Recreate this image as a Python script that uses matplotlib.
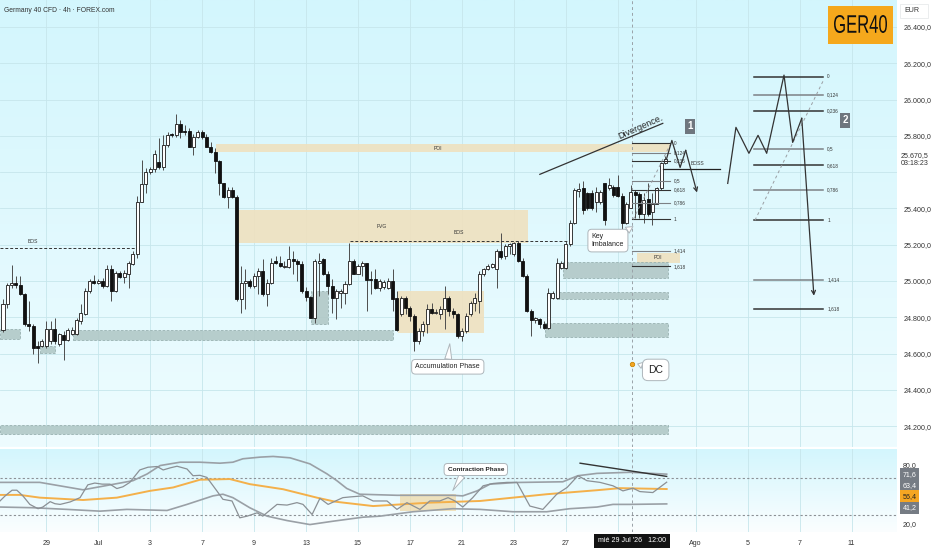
import numpy as np
import matplotlib.pyplot as plt
import matplotlib.transforms as mtransforms
from matplotlib.patches import Rectangle, PathPatch
from matplotlib.colors import LinearSegmentedColormap
from matplotlib.textpath import TextPath
from matplotlib.font_manager import FontProperties

plt.rcParams['font.family'] = ['Liberation Sans', 'DejaVu Sans']

# ---- 4h candles (GER40) ----
opens = [24731, 24875, 24980, 24991, 24980, 24930, 24764, 24753, 24643, 24643,
         24643, 24670, 24737, 24654, 24704, 24676, 24709, 24709, 24781, 24820,
         24947, 25002, 24991, 25002, 24974, 25068, 24947, 25046, 25024, 25041,
         25096, 25151, 25438, 25532, 25599, 25615, 25654, 25626, 25748, 25809,
         25803, 25864, 25825, 25825, 25737, 25792, 25820, 25792, 25737, 25709,
         25659, 25538, 25461, 25499, 25461, 24903, 24991, 25002, 24974, 25030,
         25057, 24930, 24991, 25112, 25101, 25079, 25079, 25124, 25112, 25096,
         24947, 24914, 24798, 25101, 25124, 25041, 24974, 24908, 24936, 24936,
         24985, 25112, 25041, 25085, 25101, 25013, 25013, 24963, 24969, 24963,
         25002, 24908, 24820, 24908, 24853, 24809, 24670, 24726, 24764, 24847,
         24825, 24820, 24847, 24908, 24836, 24820, 24698, 24726, 24820, 24880,
         24892, 25041, 25068, 25079, 25068, 25168, 25140, 25195, 25151, 25212,
         25112, 25030, 24836, 24787, 24792, 24764, 24742, 24908, 24908, 25074,
         25074, 25206, 25322, 25494, 25510, 25483, 25483, 25433, 25433, 25538,
         25510, 25516, 25516, 25466, 25322, 25405, 25488, 25477, 25372, 25450,
         25378, 25427, 25510, 25648]
closes = [24875, 24980, 24991, 24980, 24930, 24764, 24753, 24632, 24632, 24670,
          24737, 24737, 24670, 24709, 24676, 24731, 24731, 24787, 24825, 24947,
          25002, 24991, 25002, 24974, 25068, 24947, 25046, 25024, 25046, 25101,
          25151, 25438, 25532, 25599, 25615, 25698, 25626, 25748, 25803, 25803,
          25864, 25820, 25820, 25737, 25792, 25820, 25792, 25737, 25709, 25659,
          25538, 25461, 25499, 25461, 24903, 24991, 25002, 24974, 25030, 25057,
          24930, 24991, 25101, 25101, 25085, 25085, 25124, 25112, 25096, 24947,
          24914, 24798, 25112, 25112, 25041, 24974, 24908, 24947, 24947, 24985,
          25112, 25041, 25085, 25101, 25008, 25008, 24963, 25002, 24996, 25002,
          24903, 24731, 24908, 24853, 24809, 24670, 24726, 24764, 24847, 24825,
          24831, 24847, 24908, 24836, 24820, 24698, 24726, 24809, 24880, 24908,
          25041, 25068, 25085, 25096, 25168, 25135, 25195, 25206, 25212, 25112,
          25030, 24836, 24787, 24798, 24764, 24742, 24936, 24936, 25101, 25101,
          25206, 25322, 25499, 25505, 25389, 25400, 25400, 25488, 25488, 25334,
          25527, 25472, 25466, 25322, 25427, 25488, 25472, 25372, 25444, 25372,
          25427, 25510, 25648, 25670]
highs = [24903, 24991, 25090, 25030, 25030, 24936, 24892, 24764, 24670, 24682,
         24781, 24781, 24798, 24715, 24726, 24742, 24747, 24798, 24875, 24963,
         25013, 25035, 25013, 25019, 25090, 25090, 25057, 25057, 25063, 25112,
         25168, 25466, 25665, 25621, 25626, 25720, 25787, 25803, 25820, 25814,
         25919, 25886, 25858, 25842, 25809, 25831, 25831, 25809, 25764, 25731,
         25665, 25543, 25516, 25516, 25472, 25085, 25068, 25013, 25046, 25074,
         25124, 25013, 25129, 25140, 25140, 25112, 25195, 25168, 25124, 25112,
         24969, 24919, 25124, 25157, 25129, 25057, 25013, 24958, 24958, 25002,
         25212, 25124, 25096, 25112, 25101, 25057, 25068, 25013, 25008, 25019,
         25068, 24947, 24919, 24919, 24864, 24820, 24742, 24781, 24875, 24880,
         24847, 24864, 24974, 24919, 24853, 24825, 24742, 24825, 24892, 24936,
         25057, 25074, 25096, 25101, 25179, 25267, 25206, 25212, 25215, 25223,
         25129, 25041, 24847, 24803, 24798, 24781, 24963, 24947, 25129, 25112,
         25223, 25334, 25510, 25538, 25549, 25488, 25499, 25516, 25499, 25543,
         25566, 25527, 25582, 25483, 25433, 25527, 25499, 25488, 25483, 25543,
         25483, 25516, 25654, 25687]
lows = [24720, 24853, 24963, 24963, 24925, 24753, 24726, 24599, 24549, 24637,
        24632, 24654, 24654, 24643, 24565, 24670, 24704, 24704, 24764, 24814,
        24936, 24985, 24985, 24963, 24969, 24892, 24941, 25019, 24991, 24963,
        25090, 25129, 25433, 25483, 25588, 25599, 25615, 25610, 25737, 25792,
        25792, 25787, 25803, 25737, 25693, 25787, 25781, 25737, 25704, 25593,
        25472, 25455, 25405, 25455, 24892, 24825, 24847, 24963, 24963, 24930,
        24919, 24864, 24985, 25096, 25079, 25074, 25074, 25041, 25002, 24936,
        24892, 24798, 24770, 24919, 25035, 24930, 24825, 24792, 24853, 24875,
        24980, 25041, 25041, 25030, 24836, 24930, 24958, 24947, 24958, 24958,
        24836, 24726, 24809, 24820, 24781, 24615, 24654, 24698, 24715, 24820,
        24820, 24792, 24737, 24809, 24798, 24687, 24670, 24715, 24809, 24836,
        24825, 25030, 25063, 25074, 24963, 25124, 25124, 25151, 25140, 25107,
        25024, 24831, 24698, 24770, 24742, 24737, 24737, 24903, 24903, 25068,
        25068, 25195, 25317, 25461, 25372, 25389, 25389, 25378, 25427, 25306,
        25499, 25461, 25461, 25273, 25317, 25400, 25350, 25350, 25322, 25361,
        25306, 25422, 25499, 25643]

# ---- oscillator (read at bar positions) ----
rsi_idx = [-0.7, 0.5, 2.1, 3.2, 4.6, 6.2, 8.1, 9.2, 10.9, 12.0, 13.2, 15.5, 17.8, 19.6, 21.2,
           22.9, 24.7, 26.3, 27.7, 29.3, 31.6, 33.5, 35.6, 37.0, 38.6, 40.2, 42.5, 43.9, 45.5,
           47.1, 49.4, 50.8, 52.9, 54.7, 56.4, 58.7, 60.0, 63.3, 65.6, 67.9, 69.3, 71.4, 73.2,
           75.1, 78.5, 80.1, 83.1, 85.5, 88.7, 91.0, 93.3, 96.3, 98.6, 100.9, 102.8, 104.4,
           106.2, 108.5, 110.9, 113.2, 116.4, 118.7, 121.7, 124.7, 127.9, 130.3, 132.8, 134.9,
           137.9, 140.9, 143.2, 145.5, 147.1, 150.1, 153.3]
rsi_val = [44.2, 49.4, 55.2, 55.2, 49.4, 40.7, 36.3, 38.0, 43.5, 41.4, 40.7, 43.2, 47.6, 60.7, 62.5,
           61.4, 61.4, 56.9, 58.7, 63.2, 75.9, 78.7, 79.4, 75.9, 78.0, 79.7, 76.9, 70.0, 70.4,
           68.3, 54.5, 45.9, 44.2, 27.0, 28.7, 32.1, 28.7, 40.7, 40.0, 42.5, 40.7, 30.4, 46.9,
           40.7, 47.6, 48.3, 49.4, 44.2, 44.2, 35.6, 42.5, 35.6, 44.2, 44.2, 47.6, 44.2,
           38.0, 47.6, 59.7, 62.1, 63.2, 63.2, 39.0, 35.6, 51.1, 58.0, 70.0, 64.9,
           63.2, 59.7, 54.5, 57.3, 53.8, 52.8, 63.4]
upper_idx = [-0.7, 8.5, 18.5, 30.0, 33.3, 36.3, 40.9, 45.5, 50.1, 53.1, 55.4, 59.4, 62.4, 66.3,
             70.9, 74.8, 77.1, 79.4, 82.4, 91.0, 103.9, 106.2, 109.5, 112.5, 118.7, 129.3,
             132.8, 137.2, 144.8, 153.3]
upper_val = [63.2, 63.2, 55.6, 64.9, 71.8, 80.4, 83.8, 83.8, 82.8, 83.8, 87.3, 89.0, 89.7, 88.3,
             82.1, 72.0, 65.0, 57.0, 51.1, 50.0, 50.0, 49.4, 54.5, 61.4, 63.1, 63.8,
             70.0, 72.4, 73.5, 71.6]
lower_idx = [-0.7, 6.9, 14.8, 22.4, 28.6, 37.9, 42.5, 48.5, 50.8, 53.1, 57.0, 61.0, 65.6, 70.9,
             76.2, 83.1, 87.1, 94.7, 103.9, 110.2, 117.8, 125.6, 130.9, 137.2, 140.9, 144.8, 153.3]
lower_val = [38.0, 37.3, 35.6, 33.8, 35.6, 34.5, 40.7, 49.4, 51.1, 47.6, 37.3, 28.7, 24.2, 20.1,
             23.5, 27.6, 28.7, 33.2, 36.3, 35.6, 33.2, 33.2, 36.3, 38.0, 40.7, 40.7, 41.2]
ma_idx = [-0.7, 3.9, 8.5, 18.5, 26.3, 33.9, 39.3, 45.5, 52.4, 57.0, 64.7, 72.5, 76.7, 85.5, 98.6,
          110.2, 117.8, 125.6, 137.2, 142.5, 153.3]
ma_val = [50.4, 50.4, 47.6, 45.2, 47.6, 54.5, 58.0, 65.9, 66.6, 61.4, 56.2, 47.6, 43.5, 39.0, 42.5,
          44.2, 47.6, 51.1, 55.2, 57.3, 56.4]
osc_last = ['71,6', '63,4', '56,4', '41,2']
osc_label_at = [71.6, 60.0, 48.8, 37.4]

# ---- axis labels ----
price_ticks = [24200, 24400, 24600, 24800, 25000, 25200, 25400, 25800, 26000, 26200, 26400]
date_idx = [10, 22, 34, 46, 58, 70, 82, 94, 106, 118, 130, 160, 172, 184, 196]
date_lbl = ['29', 'Jul', '3', '7', '9', '13', '15', '17', '21', '23', '27', 'Ago', '5', '7', '11']
last_price = 25670.5

# ---- drawings ----
beige_zones = [(49.2, 154.0, 25709, 25753), (54.0, 121.2, 25212, 25394),
               (91.2, 111.1, 24715, 24947), (146.4, 156.4, 25101, 25157)]
gray_zones = [(-0.7, 3.9, 24682, 24737), (8.5, 12.0, 24604, 24643), (16.2, 90.0, 24676, 24731),
              (71.1, 75.1, 24764, 24947), (129.3, 153.6, 25019, 25107),
              (128.0, 153.6, 24903, 24941), (125.2, 153.6, 24693, 24770), (-0.7, 153.6, 24157, 24206)]
fib_levels = [0, 0.124, 0.236, 0.5, 0.618, 0.786, 1, 1.414, 1.618]
fib_names = ['0', '0,124', '0,236', '0,5', '0,618', '0,786', '1', '1,414', '1,618']
fib1 = (145.3, 154.0, 25760, 25340)
fib2 = (173.4, 189.4, 26125, 25335)
proj1_idx = [153.3, 154.5, 156.4, 157.7, 160.3]
proj1_px = [25676, 25775, 25626, 25720, 25488]
proj2_idx = [167.4, 169.3, 172.3, 174.4, 176.4, 180.4, 182.4, 184.5, 187.3]
proj2_px = [25538, 25847, 25704, 25803, 25704, 26135, 25764, 25897, 24919]
cross_idx = 145.3

W, H = 932, 550
fig = plt.figure(figsize=(W / 100, H / 100), dpi=100)


def box(l, t, r, b):
    return [l / W, 1 - b / H, (r - l) / W, (b - t) / H]


ax = fig.add_axes(box(0, 0, 897, 447))
osc = fig.add_axes(box(0, 449, 897, 532), sharex=ax)


def gradient(a, top, bottom):
    cm = LinearSegmentedColormap.from_list('g', [bottom, top])
    a.imshow(np.linspace(0, 1, 256).reshape(-1, 1), aspect='auto', cmap=cm,
             extent=[0, 1, 0, 1], transform=a.transAxes, origin='lower', zorder=-10)


gradient(ax, '#d3f6fd', '#eefcff')
gradient(osc, '#d3f6fd', '#fbfeff')

grid_c = '#c6e6ec'
for p in price_ticks + [25600]:
    ax.axhline(p, color=grid_c, lw=0.6, zorder=0)
for d in date_idx + [142]:
    ax.axvline(d, color=grid_c, lw=0.6, zorder=0)
    osc.axvline(d, color=grid_c, lw=0.6, zorder=0)

# zones
for x0, x1, p0, p1 in beige_zones:
    ax.add_patch(Rectangle((x0, p0), x1 - x0, p1 - p0, fc='#efe1bf', ec='none', alpha=0.9, zorder=1))
for x0, x1, p0, p1 in gray_zones:
    ax.add_patch(Rectangle((x0, p0), x1 - x0, p1 - p0, fc='#b1c8c7', ec='#93acab', lw=0.6,
                           ls=(0, (3, 2)), alpha=0.9, zorder=1))

# candles
o, h, l, c = map(np.array, (opens, highs, lows, closes))
idx = np.arange(len(o))
up = c >= o
lo = np.minimum(o, c)
hgt = np.maximum(np.abs(c - o), 3)
ax.vlines(idx, l, h, color='#4d4d4d', lw=0.7, zorder=3)
ax.bar(idx[up], hgt[up], bottom=lo[up], width=0.7, fc='white', ec='#1a1a1a', lw=0.6, zorder=4)
ax.bar(idx[~up], hgt[~up], bottom=lo[~up], width=0.7, fc='#111111', ec='#111111', lw=0.6, zorder=4)

# small labels
lab = dict(fontsize=3.6, color='#333', ha='center', va='center', zorder=6)
ax.text(6.9, 25218, 'BOS', **lab)
ax.text(105.3, 25267, 'BOS', **lab)
ax.text(87.5, 25300, 'FVG', **lab)
ax.text(100.5, 25731, 'POI', **lab)
ax.text(151.3, 25129, 'POI', **lab)
ax.text(160.3, 25648, 'BOSS', **lab)

# BOS lines
ax.plot([-0.7, 30.5], [25184, 25184], color='#333', lw=0.7, ls=(0, (3, 2)), zorder=5)
ax.plot([80.1, 130.3], [25223, 25223], color='#333', lw=0.7, ls=(0, (3, 2)), zorder=5)
ax.plot([152.4, 165.6], [25615, 25615], color='#222', lw=0.9, zorder=5)

# divergence
ax.plot([124.0, 152.4], [25588, 25869], color='#333', lw=0.9, zorder=5)
ax.text(147.3, 25850, 'Divergence.', fontsize=6.5, color='#222', rotation=24,
        ha='center', va='center', rotation_mode='anchor', zorder=6)

# fibonacci tools
for (x0, x1, hi, lo_), lw in ((fib1, 0.8), (fib2, 1.1)):
    for k, (lv, nm) in enumerate(zip(fib_levels, fib_names)):
        pr = hi - lv * (hi - lo_)
        ax.plot([x0, x1], [pr, pr], color='#333' if k % 2 == 0 else '#7d8185', lw=lw, zorder=5)
        ax.text(x1 + 1.0, pr, nm, fontsize=3.4, color='#333', va='center', ha='left', zorder=6)
    ax.plot([x0 + 0.3, x1], [lo_, hi - 0.03 * (hi - lo_)], color='#9a9ea3', lw=0.7,
            ls=(0, (3, 3)), zorder=5)

# projections
for xs, ys in ((proj1_idx, proj1_px), (proj2_idx, proj2_px)):
    ax.plot(xs[:-1], ys[:-1], color='#333', lw=0.9, zorder=5)
    ax.annotate('', xy=(xs[-1], ys[-1]), xytext=(xs[-2], ys[-2]),
                arrowprops=dict(arrowstyle='->', color='#333', lw=0.9, shrinkA=0, shrinkB=0,
                                mutation_scale=7), zorder=5)

num = dict(fontsize=7, color='white', fontweight='bold', ha='center', va='center', zorder=7,
           bbox=dict(boxstyle='square,pad=0.25', fc='#6e767e', ec='none'))
ax.text(158.7, 25853, '1', **num)
ax.text(194.5, 25886, '2', **num)

# callouts
cb = dict(boxstyle='round,pad=0.55', fc='white', ec='#aeb6bb', lw=0.7)


def callout(a, text, xy, off, size, rel, weight='normal', tw=1.0):
    a.annotate(text, xy=xy, xytext=off, textcoords='offset pixels', ha='center', va='center',
               fontsize=size, color='#222', fontweight=weight, multialignment='left', bbox=cb,
               arrowprops=dict(arrowstyle=f'wedge,tail_width={tw}', fc='white', ec='#aeb6bb', lw=0.7,
                               shrinkA=0, shrinkB=0, relpos=rel), zorder=8)


callout(ax, 'Key\nImbalance', (145.5, 25300), (-25, -14), 5.0, (0.85, 0.85))
callout(ax, 'Accumulation Phase', (103.2, 24654), (-2, -23), 5.0, (0.5, 0.9))
ax.scatter([cross_idx], [24543], s=10, color='#f5a623', ec='#c98500', lw=0.6, zorder=8)
callout(ax, 'DC', (146.6, 24543), (18, -6), 7.5, (0.1, 0.7), tw=0.6)
callout(osc, 'Contraction Phase', (103.9, 54.9), (23, 21), 4.6, (0.3, 0.1), weight='bold')

# crosshair
for a in (ax, osc):
    a.axvline(cross_idx, color='#9aa2a8', lw=0.7, ls=(0, (3, 3)), zorder=2)

# oscillator
osc.add_patch(Rectangle((91.7, 33.8), 12.9, 17.2, fc='#efd9a8', ec='none', alpha=0.75, zorder=1))
osc.axhline(68, color='#8c9196', lw=0.8, ls=(0, (2, 2)), zorder=2)
osc.axhline(30, color='#8c9196', lw=0.8, ls=(0, (2, 2)), zorder=2)
osc.plot(upper_idx, upper_val, color='#9aa0a6', lw=1.2, zorder=3)
osc.plot(lower_idx, lower_val, color='#9aa0a6', lw=1.2, zorder=3)
osc.plot(ma_idx, ma_val, color='#f4b04a', lw=1.4, zorder=3)
osc.plot(rsi_idx, rsi_val, color='#8b9095', lw=0.9, zorder=4)
osc.plot([133.3, 153.3], [82.8, 69.3], color='#333', lw=1.0, zorder=5)

# limits and axes
ax.set_xlim(-0.69, 206.5)
ax.set_ylim(24085, 26549)
osc.set_ylim(12.5, 97.3)
for a in (ax, osc):
    for s in a.spines.values():
        s.set_visible(False)


def es(v):
    return f'{v:,.1f}'.replace(',', 'X').replace('.', ',').replace('X', '.')


fs = 5.1
ax.yaxis.tick_right()
ax.set_yticks(price_ticks)
ax.set_yticklabels([es(p) for p in price_ticks])
ax.tick_params(axis='y', length=0, pad=5, labelsize=fs, labelcolor='#333')
ax.tick_params(axis='x', length=0, labelbottom=False)
osc.set_yticks([])
osc.set_xticks(date_idx)
osc.set_xticklabels(date_lbl)
osc.tick_params(axis='x', length=0, pad=6, labelsize=fs, labelcolor='#333')

tr = mtransforms.blended_transform_factory(osc.transAxes, osc.transData)
osc.text(1.006, 80, '80,0', transform=tr, fontsize=fs, color='#333', va='center')
osc.text(1.006, 20, '20,0', transform=tr, fontsize=fs, color='#333', va='center')
for txt, yv, fc, col in zip(osc_last, osc_label_at, ['#767c84', '#767c84', '#f5a623', '#767c84'],
                            ['white', 'white', '#222', 'white']):
    osc.text(1.006, yv, txt, transform=tr, fontsize=fs, color=col, va='center', clip_on=False,
             bbox=dict(boxstyle='square,pad=0.35', fc=fc, ec='none'))

trp = mtransforms.blended_transform_factory(ax.transAxes, ax.transData)
ax.text(1.004, last_price + 40, es(last_price) + '\n03:18:23', transform=trp, fontsize=fs,
        color='#333', va='top', ha='left', linespacing=1.25, zorder=9,
        bbox=dict(boxstyle='square,pad=0.4', fc='white', ec='none'))

osc.annotate("mié 29 Jul '26   12:00", xy=(cross_idx, 0), xycoords=('data', 'axes fraction'),
             xytext=(0, -9), textcoords='offset pixels', ha='center', va='center', fontsize=fs,
             color='white', annotation_clip=False,
             bbox=dict(boxstyle='square,pad=0.55', fc='#131313', ec='none'))

# header bits
fig.text(4 / W, 1 - 11 / H, 'Germany 40 CFD · 4h · FOREX.com', fontsize=4.9, color='#333', va='center')
fig.add_artist(Rectangle((828 / W, 1 - 44 / H), 65 / W, 38 / H, transform=fig.transFigure,
                         fc='#f5a81c', ec='none'))
tp = TextPath((0, 0), 'GER40', size=25, prop=FontProperties(family='Liberation Sans'))
bb = tp.get_extents()
ger = (mtransforms.Affine2D().translate(-bb.x0, -bb.y0)
       .scale(53 / bb.width, 18 / bb.height).translate(834, H - 33)
       .scale(1 / W, 1 / H) + fig.transFigure)
fig.add_artist(PathPatch(tp, transform=ger, fc='#111', ec='none'))
fig.add_artist(Rectangle((900 / W, 1 - 18 / H), 28 / W, 14 / H, transform=fig.transFigure,
                         fc='white', ec='#e3e6e8', lw=0.5))
fig.text(904 / W, 1 - 11 / H, 'EUR', fontsize=fs, color='#333', va='center')

fig.savefig('out.png', dpi=100, facecolor='white')
